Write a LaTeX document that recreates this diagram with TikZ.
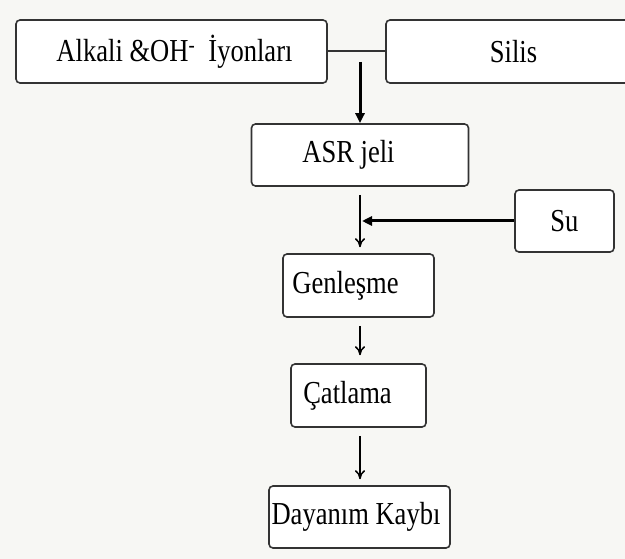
\documentclass[tikz,border=0pt]{standalone}
\usepackage{fontspec}
\setmainfont{Liberation Serif}
\usetikzlibrary{arrows.meta}
\definecolor{zemin}{RGB}{247,247,244}
\tikzset{
  box/.style={draw=black!80, line width=1.6pt, rounded corners=4pt, fill=white,
    minimum height=62pt, inner sep=0pt, font=\fontsize{32}{32}\selectfont},
  flow/.style={line width=1.5pt, -{To[length=9pt,width=10pt]}},
  bigflow/.style={line width=3pt, -{Triangle[length=10pt,width=9pt]}},
}
\newcommand{\narrow}[1]{\scalebox{0.83}[1]{#1}}
\begin{document}
\begin{tikzpicture}[x=1pt,y=-1pt]
  \clip (0,0) rectangle (625,559);
  \fill[zemin] (0,0) rectangle (625,559);
  % top row
  \node[box, minimum width=311pt, minimum height=63pt] (alkali) at (171.5,51.5) {\hspace*{6pt}\narrow{Alkali \&OH\textsuperscript{-}~ İyonları}};
  \node[box, minimum width=274pt, minimum height=63pt] (silis) at (523,51.5) {\narrow{Silis}\hspace*{19pt}};
  \draw[line width=2pt, black!80] (alkali.east) -- (silis.west);
  \coordinate (kavsak) at (360,62);
  % chain
  \node[box, minimum width=217pt] (asr) at (360,155) {\narrow{ASR jeli}\hspace*{23pt}};
  \node[box, minimum width=99pt] (su) at (564.5,221) {\narrow{Su}};
  \node[box, minimum width=151pt, minimum height=63pt] (genlesme) at (358.5,285.5) {\narrow{Genleşme}\hspace*{26pt}};
  \node[box, minimum width=135pt, minimum height=63pt] (catlama) at (358.5,395.5) {\narrow{Çatlama}\hspace*{22pt}};
  \node[box, minimum width=181pt] (kayip) at (359.5,517) {\narrow{Dayanım Kaybı}\hspace*{7pt}};
  \draw[bigflow] (kavsak) -- (kavsak |- asr.north);
  \draw[flow] ([yshift=-8pt]asr.south) -- ([yshift=6pt]asr.south |- genlesme.north);
  \draw[bigflow] (su.west) -- ([xshift=2pt]asr.south |- su.west);
  \draw[flow] ([yshift=-8pt]asr.south |- genlesme.south) -- ([yshift=8pt]asr.south |- catlama.north);
  \draw[flow] ([yshift=-8pt]asr.south |- catlama.south) -- ([yshift=6pt]asr.south |- kayip.north);
\end{tikzpicture}
\end{document}
